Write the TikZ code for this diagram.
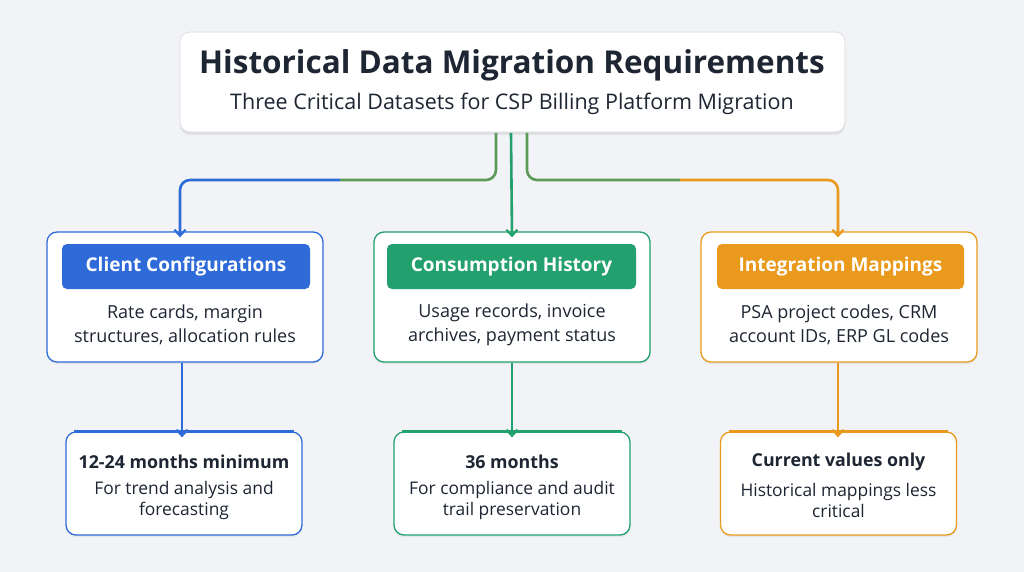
\documentclass[tikz,border=0pt]{standalone}
\usepackage{fontspec}
\setmainfont{Open Sans}
\usetikzlibrary{arrows.meta,shadows}
\definecolor{bg}{HTML}{F1F3F6}
\definecolor{cb}{HTML}{2F6BD8}
\definecolor{cg}{HTML}{22A06E}
\definecolor{co}{HTML}{E99A1C}
\definecolor{cmix}{HTML}{5C9A5A}
\definecolor{txt}{HTML}{1E2633}
\begin{document}
\begin{tikzpicture}[x=1pt,y=-1pt,
 card/.style={draw=#1,line width=1.3pt,fill=white,rounded corners=10pt,drop shadow={opacity=0.12,shadow xshift=0pt,shadow yshift=-2pt}},
 pill/.style={fill=#1,rounded corners=5pt,text=white,font=\fontsize{19}{22}\selectfont\bfseries,anchor=center},
 body/.style={text=txt,font=\fontsize{18}{24}\selectfont,align=center},
 head/.style={text=txt,font=\fontsize{17.8}{20}\selectfont\bfseries},
 low/.style={text=txt,font=\fontsize{17.4}{21}\selectfont,align=center},
 arr/.style={draw=#1,line width=2.6pt,rounded corners=10pt,-{Straight Barb[length=6pt,width=11pt,line width=2.2pt]}}]
\fill[bg] (0,0) rectangle (1024,572);
\useasboundingbox (0,0) rectangle (1024,572);
% title
\node[draw=white!85!black,line width=0.6pt,fill=white,rounded corners=10pt,minimum width=665pt,minimum height=100pt,drop shadow={opacity=0.15,shadow xshift=0pt,shadow yshift=-3pt}] (title) at (512.5,82) {};
\node[text=txt,font=\fontsize{31.5}{34}\selectfont\bfseries] (t1) at (512,65) {Historical Data Migration Requirements};
\node[text=txt,font=\fontsize{21.5}{24}\selectfont] (t2) at (512,104) {Three Critical Datasets for CSP Billing Platform Migration};
% cards
\foreach \n/\cx/\c in {a/185/cb,b/512/cg,c/839/co}{
 \node[card=\c,minimum width=276pt,minimum height=130pt] (\n) at (\cx,297) {};
}
\node[pill=cb,minimum width=248pt,minimum height=45pt] (pa) at (186,266.5) {Client Configurations};
\node[pill=cg,minimum width=249pt,minimum height=45pt] (pb) at (511.5,266.5) {Consumption History};
\node[pill=co,minimum width=247pt,minimum height=45pt] (pc) at (840.5,266.5) {Integration Mappings};
\node[body] (ba) at (185,325) {Rate cards, margin\\structures, allocation rules};
\node[body] (bb) at (512,325) {Usage records, invoice\\archives, payment status};
\node[body] (bc) at (839,325) {PSA project codes, CRM\\account IDs, ERP GL codes};
% bottom cards
\foreach \n/\cx/\c in {la/184/cb,lb/512/cg,lc/838.5/co}{
 \node[card=\c,minimum width=236pt,minimum height=103pt] (\n) at (\cx,483.5) {};
 \draw[\c,line width=3pt] ([xshift=9pt,yshift=-0.5pt]\n.north west) -- ([xshift=-9pt,yshift=-0.5pt]\n.north east);
}
\node[head] (ha) at (184,462) {12-24 months minimum};
\node[head] (hb) at (512,462) {36 months};
\node[head] (hc) at (838.5,462) {Current values only};
\node[low] (da) at (184,500) {For trend analysis and\\forecasting};
\node[low] (db) at (512,500) {For compliance and audit\\trail preservation};
\node[low] (dc) at (838.5,500) {Historical mappings less\\critical};
% connectors
\coordinate (s1) at (496,133);
\coordinate (s2) at (511,133);
\coordinate (s3) at (527,133);
\draw[draw=cmix,line width=2.6pt,rounded corners=10pt] (s1) -- (496,180) -- (340,180);
\draw[arr=cb] (340,180) -- (180,180) -- ([yshift=-6pt]a.north -| 180,0);
\draw[arr=cg] (s2) -- ([yshift=-6pt]b.north);
\draw[draw=cmix,line width=2.6pt,rounded corners=10pt] (s3) -- (527,180) -- (680,180);
\draw[arr=co] (680,180) -- (838,180) -- ([yshift=-6pt]c.north -| 838,0);
\draw[arr=cb] (a.south -| 182,0) -- ([yshift=-6pt]la.north -| 182,0);
\draw[arr=cg] (b.south) -- ([yshift=-6pt]lb.north);
\draw[arr=co] (c.south -| 838,0) -- ([yshift=-6pt]lc.north -| 838,0);
\end{tikzpicture}
\end{document}
